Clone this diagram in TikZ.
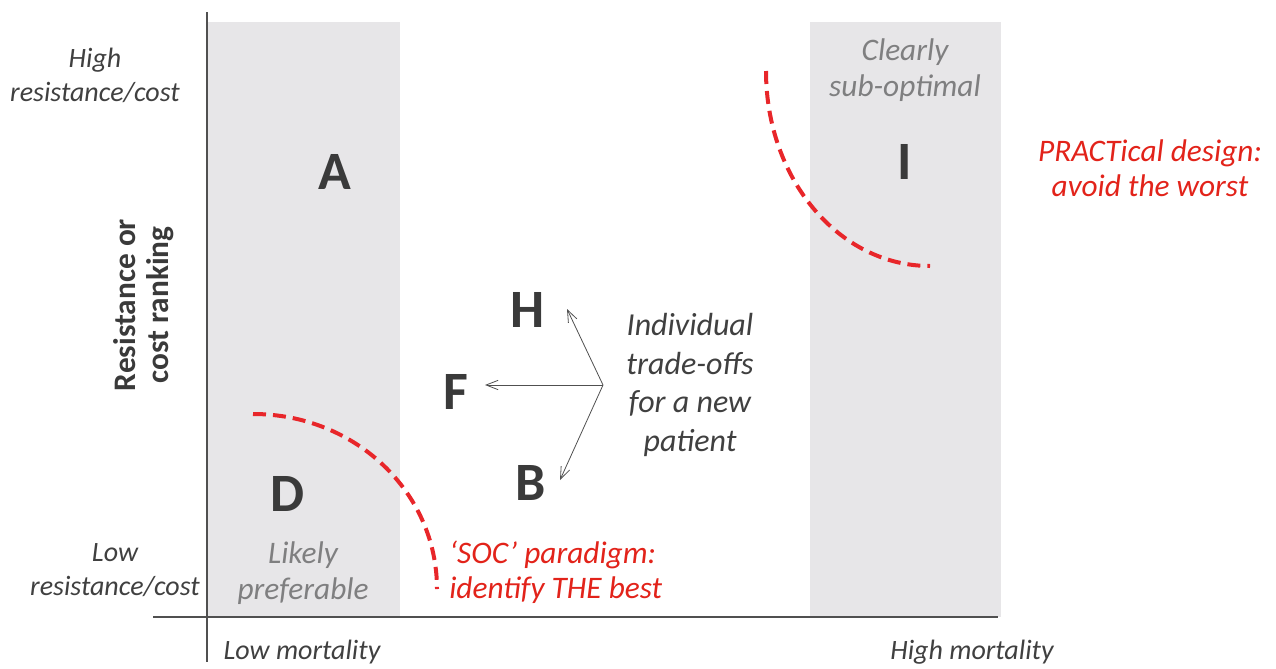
\documentclass[tikz,border=0pt]{standalone}
\usepackage{fontspec}
\setmainfont{Carlito}
\usetikzlibrary{arrows.meta}
\definecolor{boxgray}{HTML}{E7E6E8}
\definecolor{darktxt}{HTML}{3A3A3A}
\definecolor{midtxt}{HTML}{404040}
\definecolor{softtxt}{HTML}{7F7F80}
\definecolor{redline}{HTML}{E8262A}
\definecolor{redtxt}{HTML}{E2231A}
\definecolor{axisgray}{HTML}{505050}
\begin{document}
\begin{tikzpicture}[x=0.75pt,y=-0.75pt,
  axislabel/.style={font=\fontsize{21}{25.5}\selectfont\itshape, text=midtxt, align=center, inner sep=0pt},
  axistitle/.style={font=\fontsize{23.5}{24.75}\selectfont\bfseries, text=darktxt, align=center, inner sep=0pt, rotate=90},
  letter/.style={font=\fontsize{40.5}{48}\selectfont\bfseries, text=darktxt, inner sep=0pt},
  softlabel/.style={font=\fontsize{23.5}{27.5}\selectfont\itshape, text=softtxt, align=center, inner sep=0pt},
  notelabel/.style={font=\fontsize{24}{29}\selectfont\itshape, text=midtxt, align=center, inner sep=0pt},
  redlabel/.style={font=\fontsize{23.5}{26.5}\selectfont\itshape, text=redtxt, inner sep=0pt},
  frontier/.style={draw=redline, line width=3pt, dash pattern=on 9.75pt off 5.25pt},
  tradeoff/.style={draw=axisgray, line width=0.6pt, -{Straight Barb[length=9pt,width=7pt,line width=0.6pt]}},
  region/.style={fill=boxgray, draw=none},
  axisline/.style={draw=axisgray, line width=0.8pt}
]
\useasboundingbox (0,0) rectangle (1276,668);

% shaded regions
\fill[region] (208,22) rectangle (400,617);
\fill[region] (810,22) rectangle (1001,617);

% axes
\coordinate (ytop) at (207,12);
\coordinate (ybot) at (207,662);
\coordinate (xleft) at (153,617);
\coordinate (xright) at (998,617);
\draw[axisline] (ytop) -- (ybot);
\draw[axisline] (xleft) -- (xright);

% axis labels
\node[axislabel] (high) at (95,75) {High\\resistance/cost};
\node[axislabel] (low) at (115,570) {Low\\resistance/cost};
\node[axistitle] (ytitle) at (144,305) {Resistance or\\cost ranking};
\node[axislabel] (lowm) at (302,652) {Low mortality};
\node[axislabel] (highm) at (972,652) {High mortality};

% letters
\node[letter] (A) at (335,172) {A};
\node[letter] (D) at (288,494) {D};
\node[letter] (H) at (528,310) {H};
\node[letter] (F) at (456,392) {F};
\node[letter] (B) at (531,483) {B};
\node[letter] (I) at (905,162) {I};

% region labels
\node[softlabel] (likely) at (303,573) {Likely\\preferable};
\node[softlabel] (clearly) at (905,70) {Clearly\\sub-optimal};

% trade-off note and arrows
\node[notelabel] (note) at (690,385) {Individual\\trade-offs\\for a new\\patient};
\coordinate (o) at (603,385);
\coordinate (Htip) at (567,309);
\coordinate (Ftip) at (485,385);
\coordinate (Btip) at (560,480);
\draw[tradeoff] (o) -- (Htip);
\draw[tradeoff] (o) -- (Ftip);
\draw[tradeoff] (o) -- (Btip);

% red frontiers
\coordinate (s1) at (253,414);
\coordinate (e1) at (437,589);
\draw[frontier] (s1) .. controls (355,414) and (437,492) .. (e1);
\coordinate (s2) at (766,71);
\coordinate (e2) at (930,266);
\draw[frontier] (s2) .. controls (766,179) and (839,266) .. (e2);

% red notes
\node[redlabel, anchor=west, align=left] (soc) at (449,572) {‘SOC’ paradigm:\\identify THE best};
\node[redlabel, align=center] (practical) at (1150,168) {PRACTical design:\\avoid the worst};
\end{tikzpicture}
\end{document}
